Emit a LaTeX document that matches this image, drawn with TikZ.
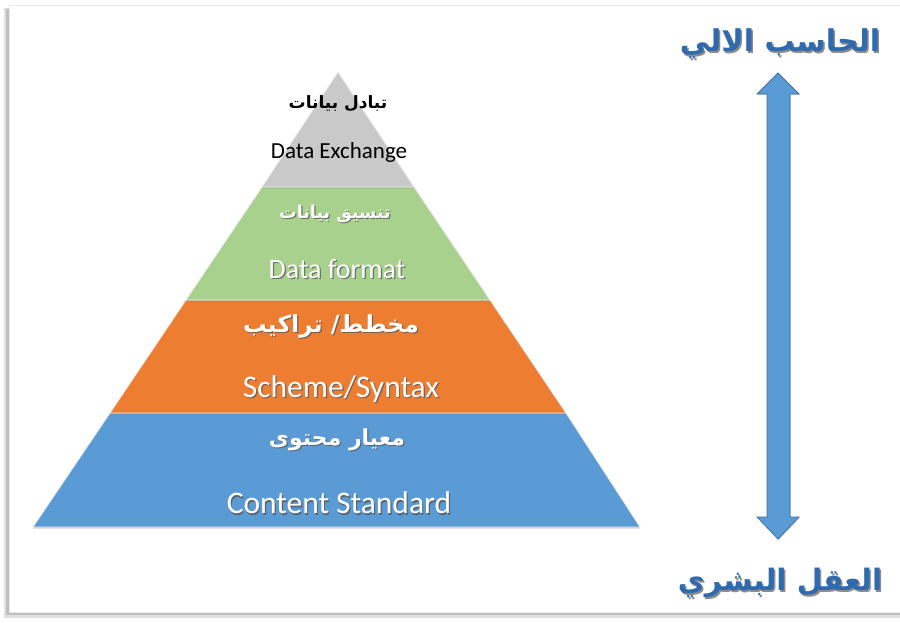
\documentclass[tikz,border=0pt]{standalone}
\usepackage{fontspec}
\setmainfont{Carlito}
\newfontfamily\arabicfont[Script=Arabic]{DejaVu Sans}
\TeXXeTstate=1
\usetikzlibrary{shadows}
\definecolor{lgray}{HTML}{C9C9C9}
\definecolor{lgreen}{HTML}{A9D18E}
\definecolor{lorange}{HTML}{ED7D31}
\definecolor{lblue}{HTML}{5B9BD5}
\definecolor{dblue}{HTML}{41719C}
\definecolor{tblue}{HTML}{2F6AAE}
\tikzset{
  layer/.style={draw=white!85!gray, line width=0.8pt},
  entext/.style={font=\fontsize{#1}{#1}\selectfont, inner sep=0pt},
  artext/.style={font=\arabicfont\bfseries\fontsize{#1}{#1}\selectfont, inner sep=0pt},
  shade/.style={text=black!65, opacity=0.8},
}
\newcommand{\shlabel}[5]{% name, x, y, style, text
  \node[#4, shade] at (#2+1.2,#3+1.2) {#5};
  \node[#4, text=white] (#1) at (#2,#3) {#5};
}
\begin{document}
\begin{tikzpicture}[x=1pt,y=-1pt]
\useasboundingbox (0,0) rectangle (900,622);
% frame with shadow
\fill[black!25] (5,9) rectangle (906,617);
\fill[black!12] (4,8) rectangle (907,618);
\fill[black!25] (6,9) rectangle (905,615);
\fill[white] (9,5) rectangle (905,612);
\draw[black!8, line width=0.6pt] (9,5) rectangle (905,612);
% pyramid layers
\path[layer, fill=lblue, drop shadow={opacity=0.35, shadow xshift=0pt, shadow yshift=-1.5pt}]
  (110,413) -- (566,413) -- (640,527) -- (33,527) -- cycle;
\path[layer, fill=lorange, drop shadow={opacity=0.35, shadow xshift=0pt, shadow yshift=-1.5pt}]
  (186,300) -- (490,300) -- (566,413) -- (110,413) -- cycle;
\path[layer, fill=lgreen, drop shadow={opacity=0.3, shadow xshift=0pt, shadow yshift=-1.5pt}]
  (262,187) -- (414,187) -- (490,300) -- (186,300) -- cycle;
\path[layer, fill=lgray, drop shadow={opacity=0.3, shadow xshift=0pt, shadow yshift=-1.5pt}]
  (338,72) -- (414,187) -- (262,187) -- cycle;
% top layer texts
\node[artext=17, text=black] (ar1) at (338,104) {\beginR تبادل بيانات\endR};
\node[entext=23, text=black] (en1) at (339,152) {Data Exchange};
% other layer texts
\shlabel{ar2}{335}{214}{artext=17.5}{\beginR تنسيق بيانات\endR}
\shlabel{en2}{337}{269}{entext=28}{Data format}
\shlabel{ar3}{331}{326}{artext=23.5}{\beginR مخطط/ تراكيب\endR}
\shlabel{en3}{341}{389}{entext=31.5}{Scheme/Syntax}
\shlabel{ar4}{337}{440}{artext=22}{\beginR معيار محتوى\endR}
\shlabel{en4}{339}{503}{entext=31.5}{Content Standard}
% double arrow
\path[fill=lblue, draw=dblue, line width=0.8pt, line join=miter,
      drop shadow={opacity=0.3, shadow xshift=1pt, shadow yshift=-1pt}]
  (778,73) -- (799,94) -- (790,94) -- (790,517) -- (799,517) -- (778,539)
  -- (757,517) -- (767,517) -- (767,94) -- (757,94) -- cycle;
% side labels
\node[artext=30, text=black!45] at (781.5,45.5) {\beginR الحاسب الالي\endR};
\node[artext=30, text=tblue] (top) at (780,44) {\beginR الحاسب الالي\endR};
\node[artext=29.5, text=black!45] at (781.5,584.5) {\beginR العقل البشري\endR};
\node[artext=29.5, text=tblue] (bottom) at (780,583) {\beginR العقل البشري\endR};
\end{tikzpicture}
\end{document}
